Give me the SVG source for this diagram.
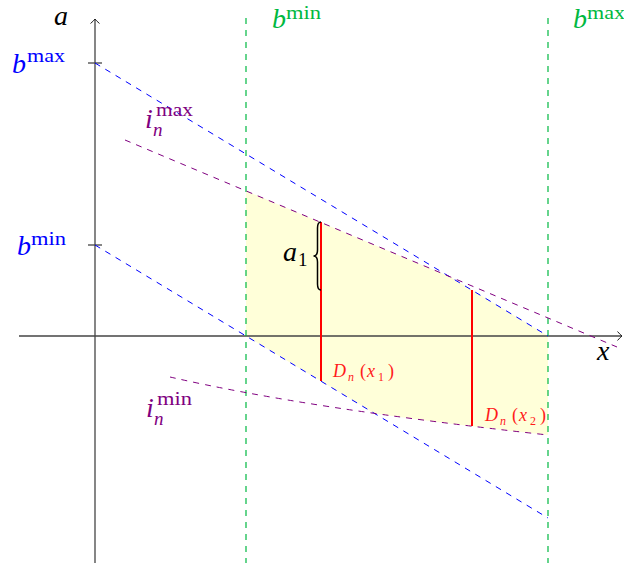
<svg xmlns="http://www.w3.org/2000/svg" width="624" height="565" viewBox="0 0 624 565" font-family="'Liberation Serif', 'DejaVu Serif', serif">
<style>
text{font-family:"Liberation Serif","DejaVu Serif",serif}
.it{font-style:italic}
.big{font-size:28px}
.sup{font-size:19px}
.axis{stroke:#444;stroke-width:1.3;fill:none}
.blue{stroke:#0000ff;stroke-width:1;stroke-dasharray:6 6;fill:none}
.purple{stroke:#800080;stroke-width:1;stroke-dasharray:6 6;fill:none}
.green{stroke:#00b841;stroke-width:1.2;stroke-dasharray:6 6;fill:none}
.red{stroke:#ff0000;stroke-width:2;fill:none}
.tb{fill:#0000ff}.tg{fill:#00b841}.tp{fill:#800080}.tr{fill:#ff1a1a}.tk{fill:#000}
</style>
<defs>
<marker id="arr" viewBox="-6 -6 8 12" markerWidth="8" markerHeight="12" refX="0" refY="0" orient="auto" markerUnits="userSpaceOnUse">
<path d="M-4.5,-4.5 Q-1.5,-1 0,0 Q-1.5,1 -4.5,4.5" fill="none" stroke="#222" stroke-width="1"/>
</marker>
</defs>
<g id="region">
<path d="M246,191 L448.9,276.3 L548,336 L548,435 Q453.3,424.6 374.6,413.4 L246,336 Z" fill="#ffffd9"/>
</g>
<g id="connectors">
<line class="axis" x1="95" y1="563" x2="95" y2="19" marker-end="url(#arr)"/>
<line class="axis" x1="19" y1="336" x2="622" y2="336" marker-end="url(#arr)"/>
<line class="axis" x1="88" y1="63" x2="102" y2="63"/>
<line class="axis" x1="88" y1="245" x2="102" y2="245"/>
<line class="green" x1="246" y1="18" x2="246" y2="563"/>
<line class="green" x1="548" y1="18" x2="548" y2="563"/>
<line class="blue" x1="95" y1="63" x2="548" y2="336"/>
<line class="blue" x1="95" y1="245" x2="548" y2="518"/>
<line class="purple" x1="125" y1="140" x2="617" y2="347"/>
<path class="purple" d="M170,377 Q307,408.5 548,435"/>
<line class="red" x1="321" y1="222" x2="321" y2="381"/>
<line class="red" x1="472" y1="290" x2="472" y2="426"/>
<path d="M321,222 C318,222 317.5,224 317.5,228 L317.5,250 C317.5,254 316,256 313.5,256 C316,256 317.5,258 317.5,262 L317.5,284 C317.5,288 318,290 321,290" fill="none" stroke="#000" stroke-width="1.5"/>
</g>
<g id="label-a"><text class="it big tk" x="54" y="25" font-family="Liberation Serif">a</text></g>
<g id="label-x"><text class="it big tk" x="597" y="360" font-family="Liberation Serif">x</text></g>
<g id="label-bmax-axis"><text class="tb" font-family="Liberation Serif"><tspan class="it big" x="12" y="73">b</tspan><tspan class="sup" x="27" y="62" textLength="38" lengthAdjust="spacingAndGlyphs">max</tspan></text></g>
<g id="label-bmin-axis"><text class="tb" font-family="Liberation Serif"><tspan class="it big" x="17" y="255">b</tspan><tspan class="sup" x="31" y="245" textLength="35" lengthAdjust="spacingAndGlyphs">min</tspan></text></g>
<g id="label-bmin-x"><text class="tg" font-family="Liberation Serif"><tspan class="it big" x="272" y="28">b</tspan><tspan class="sup" x="286" y="19" textLength="35" lengthAdjust="spacingAndGlyphs">min</tspan></text></g>
<g id="label-bmax-x"><text class="tg" font-family="Liberation Serif"><tspan class="it big" x="573" y="28">b</tspan><tspan class="sup" x="587" y="19" textLength="38" lengthAdjust="spacingAndGlyphs">max</tspan></text></g>
<g id="label-inmax"><text class="tp" font-family="Liberation Serif"><tspan class="it big" x="145" y="128">i</tspan><tspan class="sup" x="156" y="116" textLength="37" lengthAdjust="spacingAndGlyphs">max</tspan><tspan class="it sup" x="153" y="136">n</tspan></text></g>
<g id="label-inmin"><text class="tp" font-family="Liberation Serif"><tspan class="it big" x="146" y="417">i</tspan><tspan class="sup" x="157" y="405" textLength="35" lengthAdjust="spacingAndGlyphs">min</tspan><tspan class="it sup" x="154" y="425">n</tspan></text></g>
<g id="label-a1"><text class="tk" font-family="Liberation Serif"><tspan class="it big" x="283" y="261">a</tspan><tspan class="sup" x="298" y="266">1</tspan></text></g>
<g id="label-dn1"><text class="tr" font-size="18" font-family="Liberation Serif"><tspan class="it" x="333" y="377">D</tspan><tspan class="it" x="348" y="381" font-size="12">n</tspan><tspan x="360" y="377">(</tspan><tspan class="it" x="367" y="377">x</tspan><tspan x="378" y="381" font-size="12">1</tspan><tspan x="388" y="377">)</tspan></text></g>
<g id="label-dn2"><text class="tr" font-size="18" font-family="Liberation Serif"><tspan class="it" x="485" y="421">D</tspan><tspan class="it" x="500" y="425" font-size="12">n</tspan><tspan x="512" y="421">(</tspan><tspan class="it" x="519" y="421">x</tspan><tspan x="530" y="425" font-size="12">2</tspan><tspan x="540" y="421">)</tspan></text></g>
</svg>
